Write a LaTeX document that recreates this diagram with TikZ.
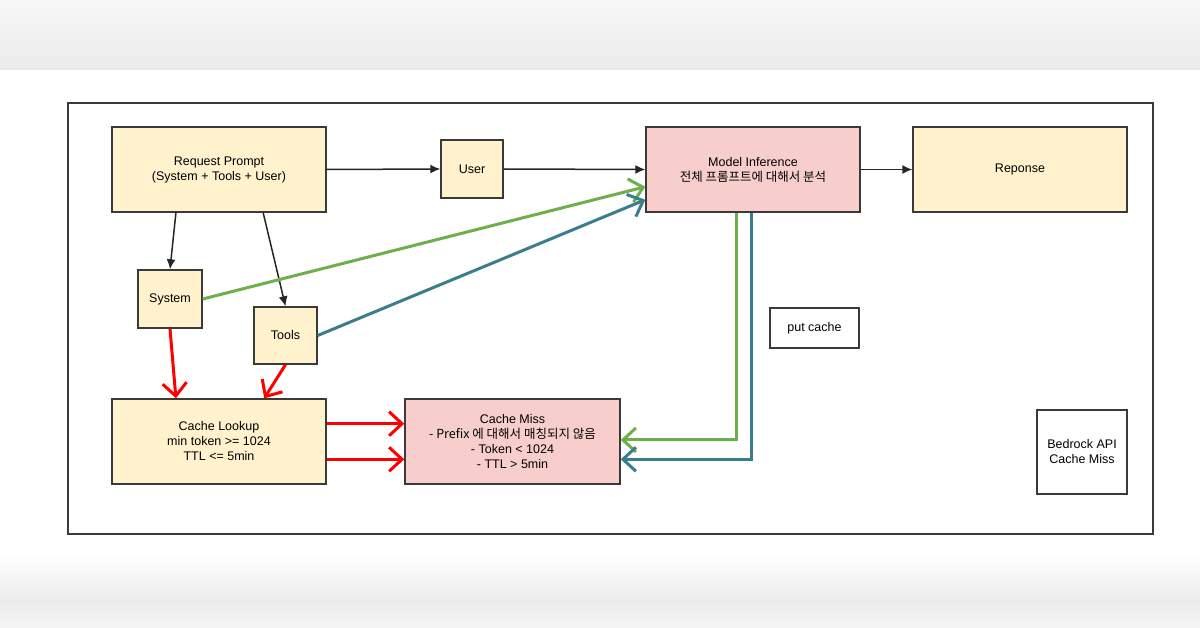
\documentclass[tikz,border=0pt]{standalone}
\usepackage{fontspec}
\setmainfont{Liberation Sans}
\newfontfamily\kr{Noto Sans CJK KR}
\usetikzlibrary{arrows.meta,calc}
\definecolor{yel}{HTML}{FFF2CC}
\definecolor{pnk}{HTML}{F8CECC}
\definecolor{grn}{HTML}{6DB04A}
\definecolor{tel}{HTML}{3A7E8E}
\definecolor{edge}{HTML}{3A3A3A}
\definecolor{band}{HTML}{EBEBEB}
\begin{document}
\begin{tikzpicture}[x=1pt,y=-1pt,
  box/.style={draw=edge, line width=1.4pt, align=center, inner sep=0pt,
    font=\fontsize{12.5}{15}\selectfont},
  ybox/.style={box, fill=yel},
  pbox/.style={box, fill=pnk},
  wbox/.style={box, fill=white},
  blk/.style={draw=black!85, line width=1.5pt, -{Latex[length=10pt,width=9pt]}},
  barb/.style={-{Straight Barb[length=13pt,width=24pt,line width=3pt]}},
  red/.style={draw=red, line width=3pt, barb},
  gline/.style={draw=grn, line width=3pt, barb},
  tline/.style={draw=tel, line width=3pt, barb}]
\useasboundingbox (0,0) rectangle (1200,628);
\fill[white] (0,0) rectangle (1200,628);
\shade[top color=white!97!black, bottom color=band] (0,0) rectangle (1200,70);
\shade[top color=white, bottom color=band] (0,555) rectangle (1200,600);
\shade[top color=band, bottom color=white!96!black] (0,600) rectangle (1200,628);
\node[draw=edge, line width=1.6pt, minimum width=1085pt, minimum height=431pt, inner sep=0pt] (frame) at (610.5,318.5) {};
\node[ybox, minimum width=214pt, minimum height=85pt] (req) at (219,169.5) {Request Prompt\\(System + Tools + User)};
\node[ybox, minimum width=62pt, minimum height=58pt] (user) at (472,169) {User};
\node[pbox, minimum width=214pt, minimum height=85pt] (model) at (753,169.5) {Model Inference\\{\kr 전체 프롬프트에 대해서 분석}};
\node[ybox, minimum width=214pt, minimum height=85pt] (resp) at (1020,169.5) {Reponse};
\node[ybox, minimum width=64pt, minimum height=58pt] (sys) at (170,299) {System};
\node[ybox, minimum width=63pt, minimum height=57pt] (tools) at (285.5,335.5) {Tools};
\node[ybox, minimum width=214pt, minimum height=85pt] (lookup) at (219,441.5) {Cache Lookup\\min token >= 1024\\TTL <= 5min};
\node[pbox, minimum width=215pt, minimum height=85pt] (miss) at (512.5,441.5) {Cache Miss\\{\kr - Prefix 에 대해서 매칭되지 않음}\\- Token < 1024\\- TTL > 5min};
\node[wbox, minimum width=89pt, minimum height=40pt] (put) at (814.5,328) {put cache};
\node[wbox, minimum width=90pt, minimum height=84pt] (bed) at (1082,452) {Bedrock API\\Cache Miss};
% black arrows
\draw[blk] (req.east) -- (user.west);
\draw[blk] (user.east) -- (model.west);
\draw[blk] (model.east) -- (resp.west);
\draw[blk] ($(req.south west)!0.3!(req.south east)$) -- (sys.north);
\draw[blk] ($(req.south west)!0.705!(req.south east)$) -- (tools.north);
% green / teal
\draw[gline] (sys.east) -- ($(model.north west)!0.7!(model.south west)$);
\draw[tline] (tools.east) -- ($(model.north west)!0.85!(model.south west)$);
\coordinate (mg) at ($(model.south west)!0.425!(model.south east)$);
\coordinate (mt) at ($(model.south west)!0.495!(model.south east)$);
\coordinate (xg) at ($(miss.north east)!0.482!(miss.south east)$);
\coordinate (xt) at ($(miss.north east)!0.706!(miss.south east)$);
\draw[gline] (mg) |- (xg);
\draw[tline] (mt) |- (xt);
% red
\draw[red] (sys.south) -- ($(lookup.north west)!0.3!(lookup.north east)$);
\draw[red] (tools.south) -- ($(lookup.north west)!0.71!(lookup.north east)$);
\draw[red] ($(lookup.north east)!0.294!(lookup.south east)$) -- ($(miss.north west)!0.294!(miss.south west)$);
\draw[red] ($(lookup.north east)!0.706!(lookup.south east)$) -- ($(miss.north west)!0.706!(miss.south west)$);
\end{tikzpicture}
\end{document}
